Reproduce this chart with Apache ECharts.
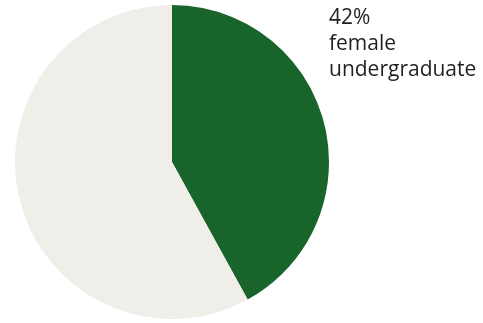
<!DOCTYPE html>
<html><head><meta charset="utf-8">
<style>html,body{margin:0;padding:0;background:#fff}#c{width:483px;height:323px}</style>
<script src="https://cdn.jsdelivr.net/npm/echarts@6/dist/echarts.min.js"></script>
</head><body><div id="c"></div>
<script>
const categories = ['female undergraduate', 'other'];
const values = [42, 58];
const colors = ['#19642a', '#efeee8'];
const labelText = values[0] + '%\nfemale\nundergraduate';

const chart = echarts.init(document.getElementById('c'));
chart.setOption({
  animation: false,
  series: [{
    type: 'pie',
    center: [172, 162],
    radius: [0, 157],
    startAngle: 90,
    clockwise: true,
    label: { show: false },
    labelLine: { show: false },
    itemStyle: { borderWidth: 0 },
    data: categories.map((c, i) => ({ name: c, value: values[i], itemStyle: { color: colors[i] } }))
  }],
  graphic: [{
    type: 'text',
    left: 329,
    top: 5,
    style: {
      text: labelText,
      font: '21px "Open Sans", sans-serif',
      fill: '#231f20',
      lineHeight: 26
    }
  }]
});
</script></body></html>
